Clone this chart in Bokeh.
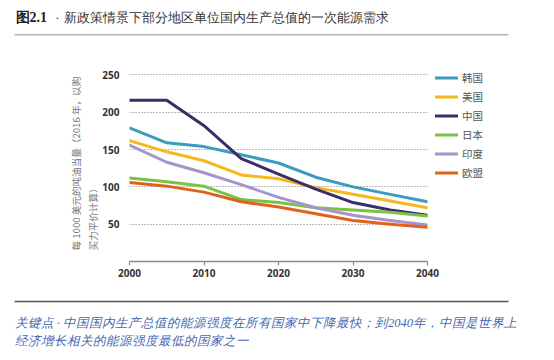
from bokeh.plotting import figure
from bokeh.models import (Range1d, FixedTicker, Legend, LegendItem, Title,
                          ColumnDataSource)
from bokeh.layouts import column, row
from bokeh.embed import file_html
from bokeh.resources import INLINE

years = [2000, 2005, 2010, 2015, 2020, 2025, 2030, 2035, 2040]
korea = [179, 159, 154, 143, 132, 113, 100, 90, 80]
usa = [162, 147, 135, 116, 111, 99, 90, 81, 72]
china = [216, 216, 182, 138, 117, 97, 79, 69, 62]
japan = [112, 107, 101, 83, 79, 72, 69, 66, 61]
india = [156, 133, 119, 103, 86, 72, 62, 55, 49]
eu = [106, 101, 93, 80, 73, 64, 55, 50, 46]

series_names = ["韩国", "美国", "中国", "日本", "印度", "欧盟"]
series_values = [korea, usa, china, japan, india, eu]
series_colors = ["#3b9cbf", "#f5b91e", "#3c2d6a", "#7bc143", "#a595c9", "#e0621c"]

y_ticks = [50, 100, 150, 200, 250]
x_ticks = [2000, 2010, 2020, 2030, 2040]

title_bold = "图2.1"
title_text = "新政策情景下部分地区单位国内生产总值的一次能源需求"
ylabel_1 = "每 1000 美元的吨油当量（2016 年，以购"
ylabel_2 = "买力平价计算）"
caption_1 = "关键点 · 中国国内生产总值的能源强度在所有国家中下降最快；到2040年，中国是世界上"
caption_2 = "经济增长相关的能源强度最低的国家之一"

CJK = "Noto Sans CJK SC"
W = 550


def blank_fig(h):
    f = figure(frame_width=W, frame_height=h, output_backend="svg",
               toolbar_location=None,
               x_range=Range1d(0, W), y_range=Range1d(h, 0),
               x_axis_location=None, y_axis_location=None,
               min_border_left=0, min_border_right=0,
               min_border_top=0, min_border_bottom=0)
    f.outline_line_color = None
    f.grid.visible = False
    f.background_fill_color = "white"
    f.border_fill_color = "white"
    return f


# ---- header: title + rule ----
head = blank_fig(40)
head.text(x=[15], y=[16.5], text=[title_bold], text_font=CJK, text_font_size="14px",
          text_font_style="bold", text_color="#222222", text_align="left",
          text_baseline="middle")
head.text(x=[57], y=[16.5], text=["·"], text_font=CJK, text_font_size="13px",
          text_color="#333333", text_align="center", text_baseline="middle")
head.text(x=[63], y=[16.5], text=[title_text], text_font=CJK, text_font_size="13px",
          text_color="#333333", text_align="left", text_baseline="middle")
head.segment(x0=[14], y0=[34.3], x1=[508], y1=[34.3], line_color="#b5b5b5",
             line_width=1.5)

# ---- main chart ----
p = figure(frame_width=298, frame_height=194, output_backend="svg", toolbar_location=None,
           x_range=Range1d(2000, 2040), y_range=Range1d(0, 260),
           min_border_left=129, min_border_right=W - 129 - 298, min_border_top=27,
           min_border_bottom=31)
p.outline_line_color = None
p.background_fill_color = "white"
p.border_fill_color = "white"

p.xaxis.ticker = FixedTicker(ticks=x_ticks)
p.xaxis.axis_line_color = "#8a8a8a"
p.xaxis.axis_line_width = 1.5
p.xaxis.major_tick_line_color = "#8a8a8a"
p.xaxis.major_tick_line_width = 1.2
p.xaxis.major_tick_out = 4
p.xaxis.major_tick_in = 0
p.xaxis.minor_tick_line_color = None
p.xaxis.major_label_standoff = 3
p.xaxis.major_label_text_font = "Open Sans"
p.xaxis.major_label_text_font_size = "10px"
p.xaxis.major_label_text_color = "#333333"
p.xaxis.major_label_text_font_style = "bold"

p.yaxis.ticker = FixedTicker(ticks=y_ticks)
p.yaxis.axis_line_color = None
p.yaxis.major_tick_line_color = None
p.yaxis.minor_tick_line_color = None
p.yaxis.major_tick_out = 0
p.yaxis.major_tick_in = 0
p.yaxis.major_label_standoff = 10
p.yaxis.major_label_text_font = "Open Sans"
p.yaxis.major_label_text_font_size = "10px"
p.yaxis.major_label_text_color = "#333333"
p.yaxis.major_label_text_font_style = "bold"

p.xgrid.grid_line_color = None
p.ygrid.ticker = FixedTicker(ticks=y_ticks)
p.ygrid.grid_line_color = "#777777"
p.ygrid.grid_line_dash = "1 2"
p.ygrid.grid_line_width = 1.2

renderers = []
for name, vals, col in zip(series_names, series_values, series_colors):
    src = ColumnDataSource(dict(x=years, y=vals))
    r = p.line("x", "y", source=src, line_color=col, line_width=3,
               line_join="round", line_cap="round")
    renderers.append((name, r))

legend = Legend(items=[LegendItem(label=n, renderers=[r]) for n, r in renderers],
                location=(8, 81), orientation="vertical",
                glyph_width=23, glyph_height=15, label_height=15,
                label_standoff=4, spacing=4, padding=0, margin=0,
                border_line_color=None, background_fill_alpha=0,
                label_text_font=CJK, label_text_font_size="10.5px",
                label_text_color="#555555", label_text_baseline="middle")
p.add_layout(legend, "right")

p.add_layout(Title(text=ylabel_2, align="left", offset=11, standoff=0,
                   text_font=CJK, text_font_size="9.6px", text_font_style="normal",
                   text_color="#777777"), "left")
p.add_layout(Title(text=ylabel_1, align="left", offset=11, standoff=2,
                   text_font=CJK, text_font_size="9.6px", text_font_style="normal",
                   text_color="#777777"), "left")

# ---- footer: rule + caption ----
foot = blank_fig(64)
foot.segment(x0=[14], y0=[9], x1=[508], y1=[9], line_color="#555555", line_width=1.5)
foot.text(x=[14], y=[30], text=[caption_1], text_font=CJK, text_font_size="12.5px",
          text_font_style="italic", text_color="#3f66b0", text_align="left",
          text_baseline="middle")
foot.text(x=[14], y=[48], text=[caption_2], text_font=CJK, text_font_size="12.5px",
          text_font_style="italic", text_color="#3f66b0", text_align="left",
          text_baseline="middle")

layout = column(head, row(p), foot, spacing=0)
open("out.html", "w").write(file_html(layout, INLINE))
